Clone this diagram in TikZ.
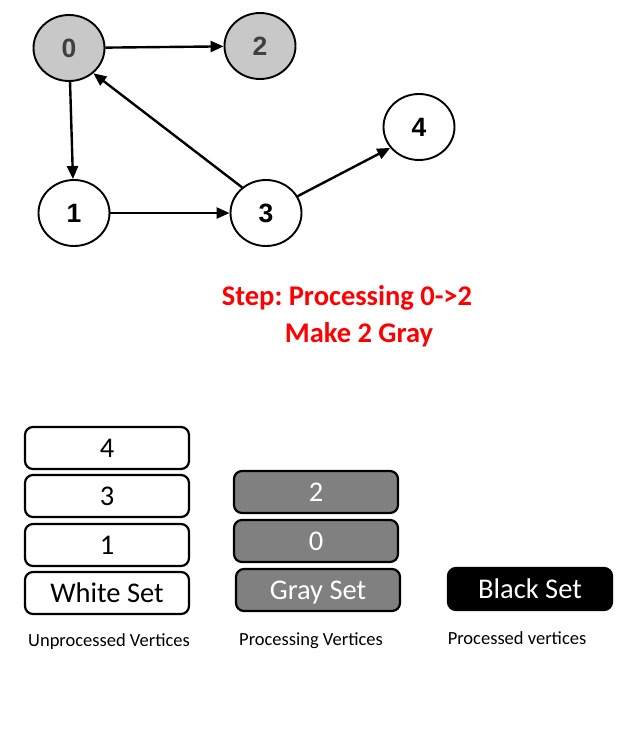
\documentclass[tikz,border=0pt]{standalone}
\usepackage{fontspec}
\setmainfont{Carlito}
\newfontfamily\nodefont{Liberation Sans}
\usetikzlibrary{shapes.geometric,arrows.meta}
\definecolor{lightgraynode}{RGB}{200,200,200}
\definecolor{darktext}{RGB}{64,64,64}
\definecolor{boxgray}{RGB}{128,128,128}
\tikzset{
  vertex/.style={ellipse,draw=black,line width=1.9pt,minimum width=71pt,minimum height=66pt,inner sep=0pt,text height=19pt,text depth=0pt,font=\nodefont\bfseries\fontsize{26.5}{29}\selectfont},
  visited/.style={vertex,fill=lightgraynode,text=darktext},
  edge/.style={line width=2.4pt,-{Triangle[length=13pt,width=11pt]}},
  setbox/.style={draw=black,line width=2.2pt,rounded corners=8pt,minimum width=164pt,minimum height=42pt,inner sep=0pt,text height=18pt,text depth=0pt,font=\fontsize{28.5}{31}\selectfont},
  whitebox/.style={setbox,fill=white},
  graybox/.style={setbox,fill=boxgray,text=white},
  blackbox/.style={setbox,fill=black,text=white},
  caption/.style={font=\fontsize{18.5}{21}\selectfont,anchor=base},
  steptext/.style={font=\bfseries\fontsize{28.5}{31}\selectfont,text=red,anchor=base}
}
\frenchspacing
\begin{document}
\begin{tikzpicture}[x=1pt,y=-1pt]
\useasboundingbox (0,0) rectangle (636,732);
% graph
\node[visited] (n0) at (69,48) {0};
\node[visited] (n2) at (260,46) {2};
\node[vertex] (n4) at (419,127) {4};
\node[vertex] (n1) at (74,213) {1};
\node[vertex] (n3) at (266,213) {3};
\draw[edge] (n0) -- (n2);
\draw[edge] (n0) -- (n1);
\draw[edge] (n1) -- (n3);
\draw[edge] (n3.133) -- (n0.-46);
\draw[edge] (n3.28) -- (n4.216);
% step text
\node[steptext] (s1) at (347,305) {Step: Processing 0->2};
\node[steptext] (s2) at (359,342) {Make 2 Gray};
% white set
\node[whitebox] (w4) at (107,448) {4};
\node[whitebox] (w3) at (107,496) {3};
\node[whitebox] (w1) at (107,545) {1};
\node[whitebox] (ws) at (107,593) {White Set};
% gray set
\node[graybox] (g2) at (316,492) {2};
\node[graybox] (g0) at (316,541) {0};
\node[graybox] (gs) at (318,590) {Gray Set};
% black set
\node[blackbox] (bs) at (530,589) {Black Set};
% captions
\node[caption] (c1) at (109,646) {Unprocessed Vertices};
\node[caption] (c2) at (311,645) {Processing Vertices};
\node[caption] (c3) at (517,644) {Processed vertices};
\end{tikzpicture}
\end{document}
